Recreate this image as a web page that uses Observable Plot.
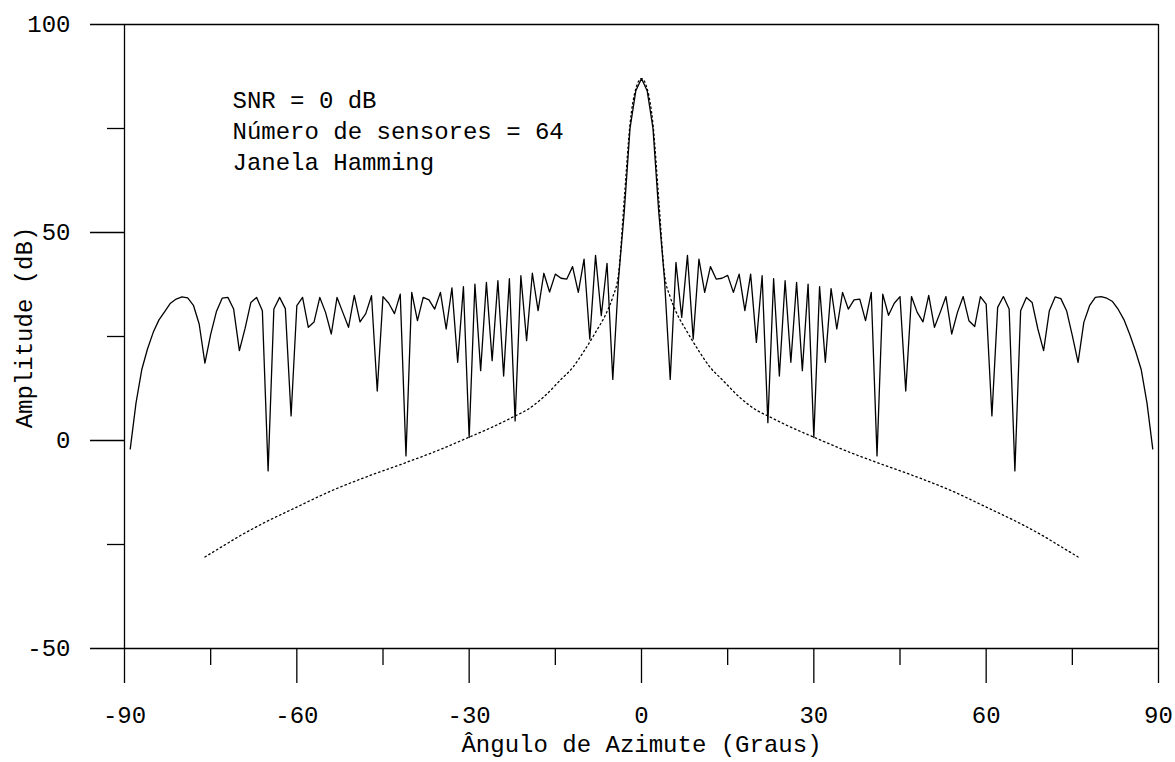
<!DOCTYPE html>
<html>
<head>
<meta charset="utf-8">
<script src="https://cdn.jsdelivr.net/npm/d3@7"></script>
<script src="https://cdn.jsdelivr.net/npm/@observablehq/plot@0.6"></script>
<style>
  html, body { margin: 0; padding: 0; background: #fff; }
  #chart { width: 1175px; height: 762px; }
</style>
</head>
<body>
<div id="chart"></div>
<script>
// Sample angles (degrees) of the solid beam pattern
const solidAngles = [
  -89,-88,-87,-86,-85,-84,-83,-82,-81,-80,-79,-78,-77,-76,-75,-74,-73,-72,-71,-70,
  -69,-68,-67,-66,-65,-64,-63,-62,-61,-60,-59,-58,-57,-56,-55,-54,-53,-52,-51,-50,
  -49,-48,-47,-46,-45,-44,-43,-42,-41,-40,-39,-38,-37,-36,-35,-34,-33,-32,-31,-30,
  -29,-28,-27,-26,-25,-24,-23,-22,-21,-20,-19,-18,-17,-16,-15,-14,-13,-12,-11,-10,
  -9,-8,-7,-6,-5,-4,-3,-2,-1,0,1,2,3,4,5,6,7,8,9,
  10,11,12,13,14,15,16,17,18,19,20,21,22,23,24,25,26,27,28,29,
  30,31,32,33,34,35,36,37,38,39,40,41,42,43,44,45,46,47,48,49,
  50,51,52,53,54,55,56,57,58,59,60,61,62,63,64,65,66,67,68,69,
  70,71,72,73,74,75,76,77,78,79,80,81,82,83,84,85,86,87,88,89
];
// Amplitude (dB)
const solidValues = [
  -2,9,17,22,26,29,31,33,34,34.5,34.3,32.5,28,18.6,25.5,31,34.2,34.4,31.6,21.6,
  27,33.2,34.4,31.2,-7.3,31.6,34.4,31.7,5.9,32.4,34.4,27.2,28.5,34.4,30.8,25.6,34.4,30.8,27.2,34.9,
  28.5,30.5,34.8,11.9,34.6,33,30.5,35.2,-3.7,35.6,28.8,34.4,33.8,31.6,35.6,26.8,36.7,18.8,37,0.7,
  37.6,16.8,38,19.2,38.4,15.5,38.9,4.7,39.6,24,40.2,31.2,40.2,35.7,40,39,38.8,41.8,35.6,43.6,
  24.4,44.5,30,42.6,14.7,38.8,55,75,84,87,84,75,55,38.8,14.7,42.8,29.6,44.5,24.4,
  43.6,35.6,41.8,38.8,39,39.7,35.6,40,31.2,40,23.6,39.6,4.3,38.9,15.5,38.4,18.8,38,16.8,37.6,
  0.7,37,18.8,36.5,26.8,35.6,31.6,33.8,34,28.8,35.6,-3.7,35.2,30.1,33,34.6,11.9,34.6,30.8,28.5,
  34.9,27.2,30.8,34.6,25.6,30.8,34.6,28.8,27.4,34.6,32.8,5.9,32,34.6,31.6,-7.3,31.2,34.4,33.2,26.8,
  21.6,31.2,34.5,34.1,31.2,25.2,18.8,28.4,32.4,34.4,34.6,34.2,33.4,31.5,29,25.5,21.5,17,9,-2
];
// Dotted reference curve
const dottedAngles = [-76,-73,-70,-66,-60,-54,-48,-41,-36,-30,-26,-22,-20,-17,-14,-12,-10,-8,-6,-5,-4,-3,-2,-1,0,
  1,2,3,4,5,6,8,10,12,14,17,20,22,26,30,36,41,48,54,60,66,70,73,76];
const dottedValues = [-28,-25.5,-23,-20,-16,-12.1,-8.8,-5.3,-2.7,0.8,3.2,5.9,7.3,10.5,14.7,17.5,21.5,26,31,34.5,40,58,76,84.5,87,
  84.5,76,58,40,34.5,31,26,21.5,17.5,14.7,10.5,7.3,5.9,3.2,0.8,-2.7,-5.3,-8.8,-12.1,-16,-20,-23,-25.5,-28];

const xMajorTicks = [-90,-60,-30,0,30,60,90];
const xMinorTicks = [-75,-45,-15,15,45,75];
const yMajorTicks = [-50,0,50,100];
const yMinorTicks = [-25,25,75];
const annotationLines = ["SNR = 0 dB", "Número de sensores = 64", "Janela Hamming"];
const xLabel = "Ângulo de Azimute (Graus)";
const yLabel = "Amplitude (dB)";

const solid = solidAngles.map((a, i) => ({angle: a, db: solidValues[i]}));
const dotted = dottedAngles.map((a, i) => ({angle: a, db: dottedValues[i]}));

const chart = Plot.plot({
  width: 1175,
  height: 762,
  marginTop: 24,
  marginBottom: 114,
  marginLeft: 124,
  marginRight: 17,
  style: {fontFamily: "'Liberation Mono', 'Courier New', monospace", fontSize: "24px", background: "#fff", color: "#000"},
  x: {domain: [-90, 90]},
  y: {domain: [-50, 100]},
  marks: [
    Plot.ruleY([-50, 100], {stroke: "#000", strokeWidth: 1.3}),
    Plot.ruleX([-90, 90], {stroke: "#000", strokeWidth: 1.3}),
    Plot.axisX(xMajorTicks, {tickSize: 35, tickPadding: 22, strokeWidth: 1.3, tickFormat: d => String(d), label: null}),
    Plot.axisX(xMinorTicks, {tickSize: 17, strokeWidth: 1.3, tickFormat: () => "", label: null}),
    Plot.axisY(yMajorTicks, {tickSize: 34, tickPadding: 20, strokeWidth: 1.3, tickFormat: d => String(d), label: null}),
    Plot.axisY(yMinorTicks, {tickSize: 17, strokeWidth: 1.3, tickFormat: () => "", label: null}),
    Plot.line(dotted, {x: "angle", y: "db", stroke: "#000", strokeWidth: 1.3, strokeDasharray: "1.5,3", curve: "monotone-x"}),
    Plot.line(solid, {x: "angle", y: "db", stroke: "#000", strokeWidth: 1.3}),
    Plot.text([annotationLines.join("\n")],
      {frameAnchor: "top-left", dx: 108, dy: 62, text: d => d, textAnchor: "start", lineAnchor: "top", lineHeight: 1.29, fontSize: 24, fill: "#000"}),
    Plot.text([xLabel], {frameAnchor: "bottom", dy: 96, textAnchor: "middle", lineAnchor: "middle", text: d => d, fontSize: 24, fill: "#000"}),
    Plot.text([yLabel], {frameAnchor: "left", dx: -100, dy: -9, rotate: -90, textAnchor: "middle", lineAnchor: "middle", text: d => d, fontSize: 24, fill: "#000"})
  ]
});
document.getElementById("chart").appendChild(chart);
</script>
</body>
</html>
